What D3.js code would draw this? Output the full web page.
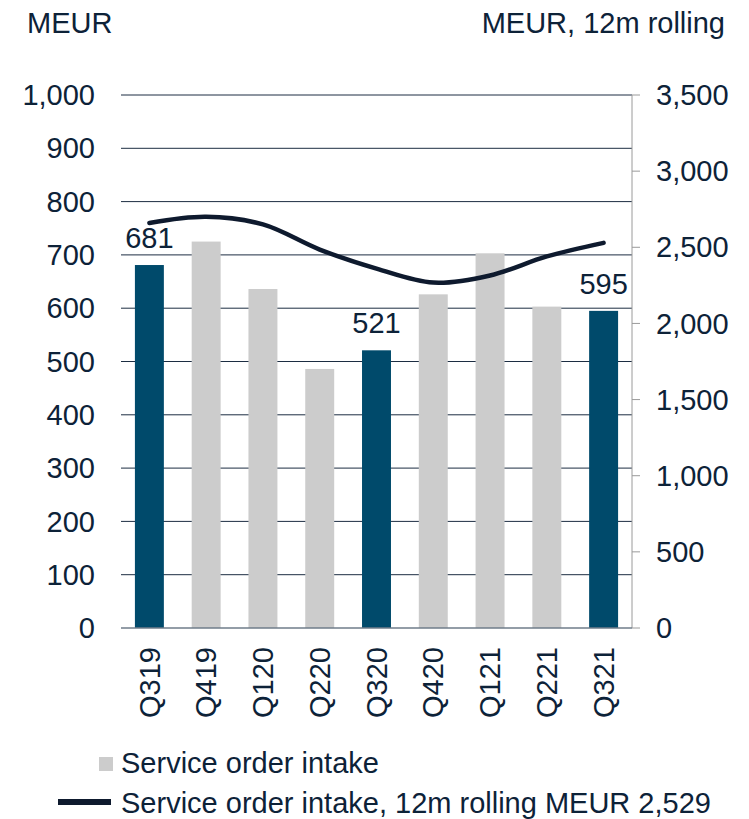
<!DOCTYPE html>
<html>
<head>
<meta charset="utf-8">
<script src="https://cdn.jsdelivr.net/npm/d3@7"></script>
<style>
  body { margin: 0; background: #fff; }
  text { font-family: "Liberation Sans", Arial, sans-serif; fill: #0d2238; }
</style>
</head>
<body>
<script>
// data
var quarters = ["Q319", "Q419", "Q120", "Q220", "Q320", "Q420", "Q121", "Q221", "Q321"];
var orderIntake = [681, 725, 636, 486, 521, 626, 703, 603, 595];
var rolling12m = [2660, 2700, 2650, 2485, 2360, 2268, 2315, 2440, 2529];
var highlighted = ["Q319", "Q320", "Q321"];
var leftTicks = [0, 100, 200, 300, 400, 500, 600, 700, 800, 900, 1000];
var rightTicks = [0, 500, 1000, 1500, 2000, 2500, 3000, 3500];

var W = 749, H = 819;
var plotLeft = 121, plotRight = 632, plotTop = 95, plotBottom = 628;
var fs = "29px";

var svg = d3.select("body").append("svg")
    .attr("width", W)
    .attr("height", H);

var x = d3.scaleBand().domain(quarters).range([plotLeft, plotRight])
    .paddingInner(0.49).paddingOuter(0.245);
var y = d3.scaleLinear().domain([0, 1000]).range([plotBottom, plotTop]);
var y2 = d3.scaleLinear().domain([0, 3500]).range([plotBottom, plotTop]);

// gridlines
svg.append("g").selectAll("line")
  .data(leftTicks.filter(d => d > 0))
  .enter().append("line")
    .attr("x1", plotLeft).attr("x2", plotRight)
    .attr("y1", d => y(d)).attr("y2", d => y(d))
    .attr("stroke", "#1c2d42")
    .attr("stroke-width", 1);

// left tick labels
svg.append("g").selectAll("text")
  .data(leftTicks)
  .enter().append("text")
    .attr("x", 95)
    .attr("y", d => y(d))
    .attr("dy", "0.35em")
    .attr("text-anchor", "end")
    .style("font-size", fs)
    .text(d => d3.format(",")(d));

// right axis
svg.append("line")
  .attr("x1", plotRight).attr("x2", plotRight)
  .attr("y1", plotTop).attr("y2", plotBottom)
  .attr("stroke", "#9a9a9a");
svg.append("g").selectAll("line")
  .data(rightTicks)
  .enter().append("line")
    .attr("x1", plotRight).attr("x2", plotRight + 8)
    .attr("y1", d => y2(d)).attr("y2", d => y2(d))
    .attr("stroke", "#9a9a9a");
svg.append("g").selectAll("text")
  .data(rightTicks)
  .enter().append("text")
    .attr("x", 656)
    .attr("y", d => y2(d))
    .attr("dy", "0.35em")
    .style("font-size", fs)
    .text(d => d3.format(",")(d));

// bars
svg.append("g").selectAll("rect")
  .data(quarters)
  .enter().append("rect")
    .attr("x", d => x(d))
    .attr("width", x.bandwidth())
    .attr("y", (d, i) => y(orderIntake[i]))
    .attr("height", (d, i) => plotBottom - y(orderIntake[i]))
    .attr("fill", d => highlighted.includes(d) ? "#004a6b" : "#cccccc");

// baseline
svg.append("line")
  .attr("x1", plotLeft).attr("x2", plotRight)
  .attr("y1", plotBottom).attr("y2", plotBottom)
  .attr("stroke", "#6f7c8a")
  .attr("stroke-width", 1.5);

// value labels on highlighted bars
svg.append("g").selectAll("text")
  .data(quarters.filter(d => highlighted.includes(d)))
  .enter().append("text")
    .attr("x", d => x(d) + x.bandwidth() / 2)
    .attr("y", d => y(orderIntake[quarters.indexOf(d)]) - 17)
    .attr("text-anchor", "middle")
    .style("font-size", fs)
    .text(d => orderIntake[quarters.indexOf(d)]);

// rolling line
var line = d3.line()
  .x((d, i) => x(quarters[i]) + x.bandwidth() / 2)
  .y(d => y2(d))
  .curve(d3.curveCatmullRom.alpha(0.5));

svg.append("path")
  .attr("d", line(rolling12m))
  .attr("fill", "none")
  .attr("stroke", "#0e1a2e")
  .attr("stroke-width", 4.5)
  .attr("stroke-linecap", "round");

// x labels
svg.append("g").selectAll("text")
  .data(quarters)
  .enter().append("text")
    .attr("transform", d => "translate(" + (x(d) + x.bandwidth() / 2) + ",647)rotate(-90)")
    .attr("dy", "0.35em")
    .attr("text-anchor", "end")
    .style("font-size", fs)
    .text(d => d);

// axis titles
svg.append("text")
  .attr("x", 27).attr("y", 33)
  .style("font-size", fs)
  .text("MEUR");
svg.append("text")
  .attr("x", 725).attr("y", 33)
  .attr("text-anchor", "end")
  .style("font-size", fs)
  .text("MEUR, 12m rolling");

// legend
svg.append("rect")
  .attr("x", 99).attr("y", 757)
  .attr("width", 14).attr("height", 14)
  .attr("fill", "#cccccc");
svg.append("text")
  .attr("x", 121).attr("y", 773)
  .style("font-size", fs)
  .text("Service order intake");
svg.append("line")
  .attr("x1", 58).attr("x2", 111)
  .attr("y1", 802).attr("y2", 802)
  .attr("stroke", "#0e1a2e")
  .attr("stroke-width", 6);
svg.append("text")
  .attr("x", 121).attr("y", 813)
  .style("font-size", fs)
  .text("Service order intake, 12m rolling MEUR 2,529");
</script>
</body>
</html>
